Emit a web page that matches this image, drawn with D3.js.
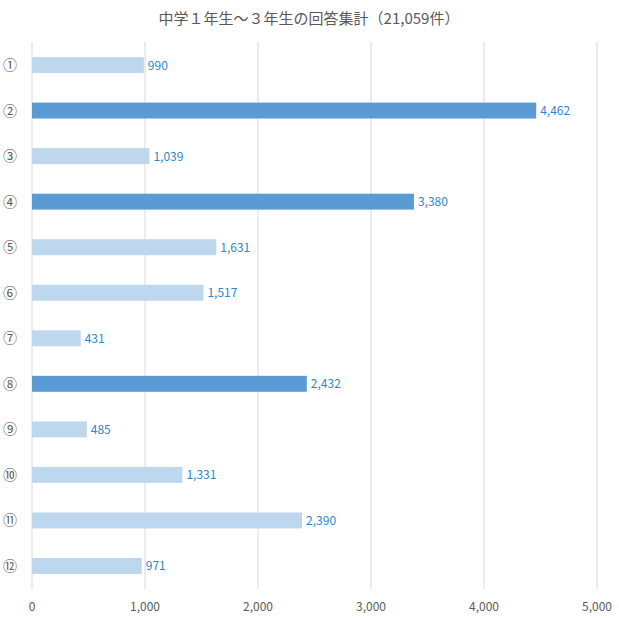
<!DOCTYPE html>
<html><head><meta charset="utf-8">
<script src="https://cdn.jsdelivr.net/npm/d3@7"></script>
<style>body{margin:0;background:#fff;font-family:"Noto Sans CJK JP","Noto Sans",sans-serif;}</style>
</head><body><svg id="chart" width="619" height="618"></svg>
<script>
// chart data
var categories = ["①","②","③","④","⑤","⑥","⑦","⑧","⑨","⑩","⑪","⑫"];
var values = [990, 4462, 1039, 3380, 1631, 1517, 431, 2432, 485, 1331, 2390, 971];
var highlighted = ["②","④","⑧"];
var ticks = [0, 1000, 2000, 3000, 4000, 5000];
var title = "中学１年生～３年生の回答集計（21,059件）";

var svg = d3.select("#chart");
var x = d3.scaleLinear().domain([0, 5000]).range([32, 597]);
var y = d3.scaleBand().domain(categories).range([42, 589]).paddingInner(0.65).paddingOuter(0.33);

svg.append("text").attr("x", 309).attr("y", 24).attr("text-anchor", "middle")
  .attr("font-size", 15).attr("fill", "#595959").text(title);

// gridlines
svg.selectAll(".grid").data(ticks).enter().append("line")
  .attr("x1", d => x(d)).attr("x2", d => x(d))
  .attr("y1", 42).attr("y2", 589)
  .attr("stroke", "#d9d9d9").attr("stroke-width", 1);

// x axis labels
svg.selectAll(".xt").data(ticks).enter().append("text")
  .attr("x", d => x(d)).attr("y", 611).attr("text-anchor", "middle")
  .attr("font-size", 12).attr("fill", "#595959").text(d3.format(","));

// category labels
svg.selectAll(".yl").data(categories).enter().append("text")
  .attr("x", 10).attr("y", d => y(d) + y.bandwidth() / 2 + 5)
  .attr("text-anchor", "middle").attr("font-size", 14).attr("fill", "#595959").text(d => d);

// bars
svg.selectAll(".bar").data(categories).enter().append("rect")
  .attr("x", x(0)).attr("y", d => y(d))
  .attr("width", (d, i) => x(values[i]) - x(0)).attr("height", y.bandwidth())
  .attr("fill", d => highlighted.includes(d) ? "#5B9BD5" : "#BDD7EE");

// value labels
svg.selectAll(".vl").data(categories).enter().append("text")
  .attr("x", (d, i) => x(values[i]) + 4).attr("y", d => y(d) + y.bandwidth() / 2 + 4.5)
  .attr("font-size", 12).attr("fill", "#2E86C8")
  .text((d, i) => d3.format(",")(values[i]));
</script></body></html>
